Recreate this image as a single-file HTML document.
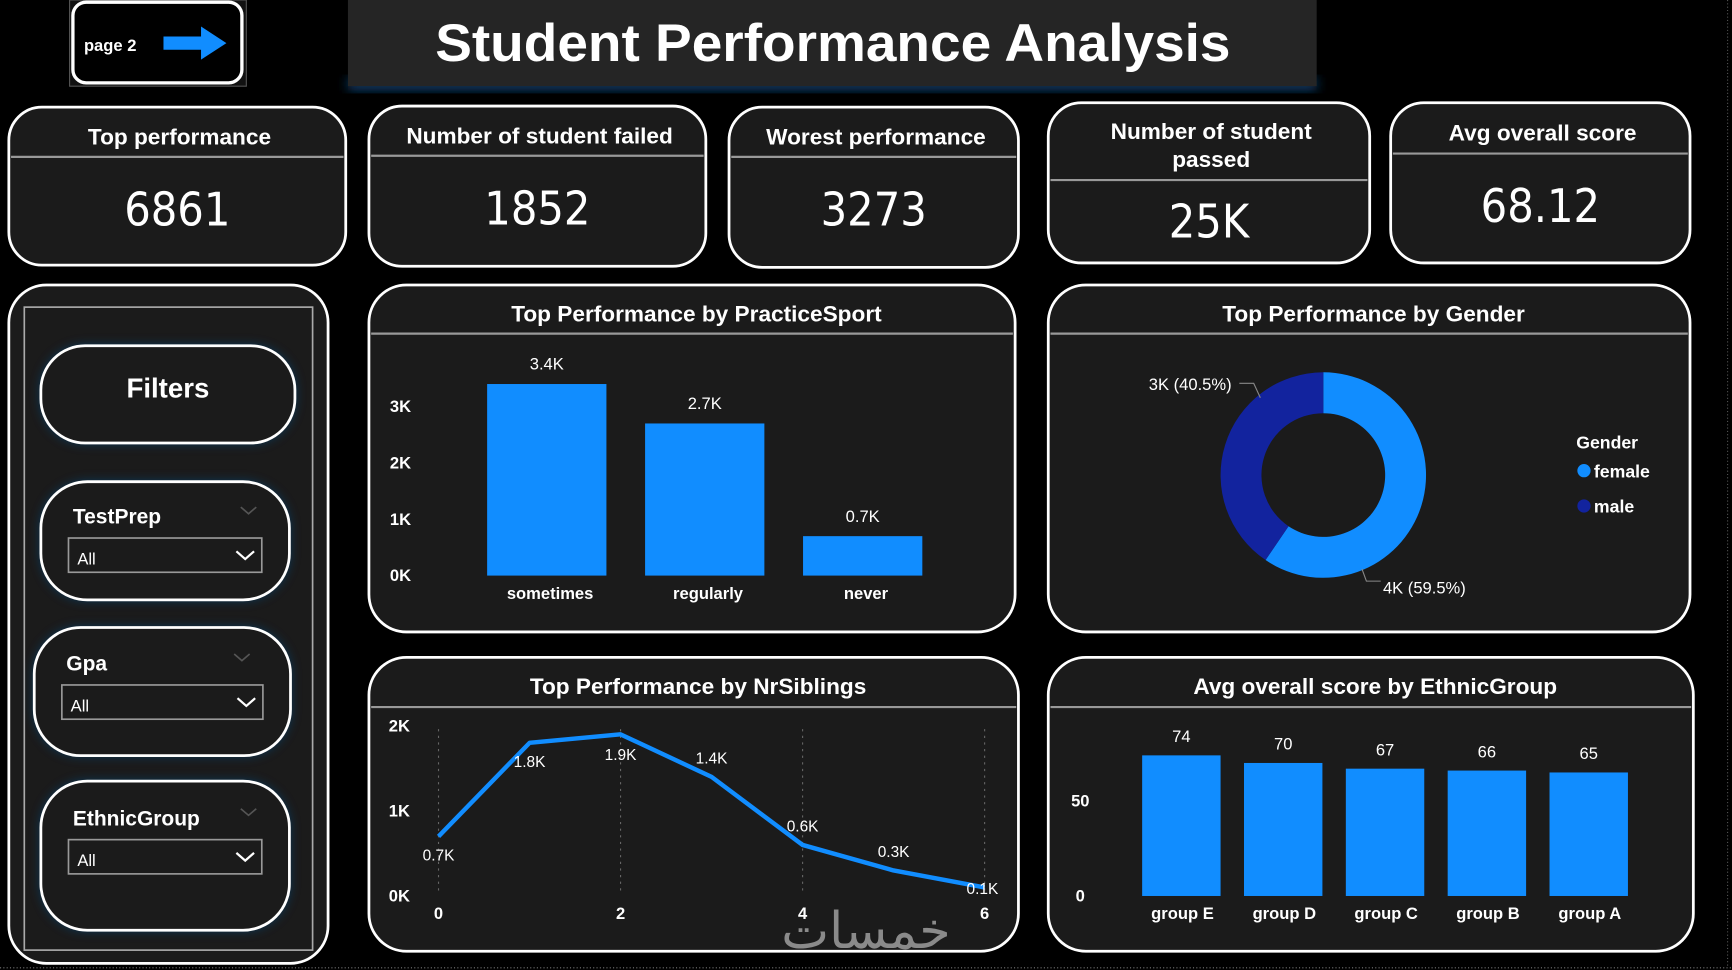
<!DOCTYPE html>
<html><head><meta charset="utf-8"><style>
html,body{margin:0;padding:0;background:#000;width:1732px;height:970px;overflow:hidden}
svg{display:block}
text{font-family:"Liberation Sans Narrow","Liberation Sans",sans-serif;fill:#fff}
.b{font-weight:bold}
</style></head><body>
<svg id="s" width="1732" height="970" viewBox="0 0 1568 878" preserveAspectRatio="none">
<defs>
<filter id="glow" x="-20%" y="-20%" width="140%" height="140%"><feGaussianBlur stdDeviation="5"/></filter>
</defs>
<rect width="1568" height="878" fill="#000"/>
<line x1="0" y1="876" x2="1568" y2="876" stroke="#777" stroke-dasharray="1 2"/>
<line x1="1564" y1="0" x2="1564" y2="876" stroke="#555" stroke-dasharray="1 2"/>

<g>
<rect x="63" y="0" width="160" height="78" fill="#111" stroke="#555"/>
<rect x="66" y="2" width="153" height="73" rx="12" fill="#000" stroke="#fff" stroke-width="3"/>
<text x="76" y="46" class="b" font-size="15">page 2</text>
<path d="M148 33 H182 V24 L205 39 L182 54 V45 H148 Z" fill="#118DFF"/>
</g>

<g>
<rect x="315" y="70" width="877" height="12" fill="#0b3a66" filter="url(#glow)"/>
<rect x="315" y="0" width="877" height="78" fill="#252525"/>
<text x="754" y="55" text-anchor="middle" class="b" font-size="48" style="font-family:'Liberation Sans',sans-serif" textLength="720" lengthAdjust="spacingAndGlyphs">Student Performance Analysis</text>
</g>

<g id="kpis"></g>
<g id="filters"></g>
<g id="c1"></g><g id="c2"></g><g id="c3"></g><g id="c4"></g>
<text x="784" y="858" text-anchor="middle" font-size="46" style="fill:#8a8a8a;font-family:'DejaVu Sans',sans-serif">خمسات</text>
</svg>
<script>
const NS="http://www.w3.org/2000/svg";
function el(tag,attrs,parent,txt){const e=document.createElementNS(NS,tag);for(const k in attrs)e.setAttribute(k,attrs[k]);if(txt!==undefined)e.textContent=txt;parent.appendChild(e);return e;}

// KPI data
const kpiTitles=[["Top performance"],["Number of student failed"],["Worest performance"],["Number of student","passed"],["Avg overall score"]];
const kpiValues=["6861","1852","3273","25K","68.12"];
const kpiBoxes=[[8,97,305,143,142],[334,96,305,145,141],[660,97,262,145,142],[949,93,291,145,163],[1259,93,271,145,139]];
const kg=document.getElementById('kpis');
kpiBoxes.forEach((b,i)=>{
  const g=el('g',{},kg);
  
  
  el('rect',{x:b[0],y:b[1],width:b[2],height:b[3],rx:30,fill:'#1b1b1b',stroke:'#fff','stroke-width':2.5},g);
  el('line',{x1:b[0]+2,x2:b[0]+b[2]-2,y1:b[4],y2:b[4],stroke:'#999','stroke-width':2},g);
  const cx=b[0]+b[2]/2;
  const t=kpiTitles[i];
  t.forEach((s,j)=>{el('text',{x:cx+2,y:(t.length>1?b[1]+33+j*25:b[1]+34),'text-anchor':'middle','font-size':20.5,class:'b'},g,s);});
  const v=el('text',{x:cx,y:b[4]+(i==3?52:62),'text-anchor':'middle','font-size':42,style:'font-family:"DejaVu Sans Condensed","DejaVu Sans",sans-serif'},g,kpiValues[i]);
  
  
});

// Filters
const fg=document.getElementById('filters');
el('rect',{x:8,y:258,width:289,height:614,rx:34,fill:'#1b1b1b',stroke:'#fff','stroke-width':2.5},fg);
el('rect',{x:22,y:278,width:261,height:582,fill:'none',stroke:'#aaa','stroke-width':1.5},fg);


const fb=el('g',{},fg);


el('rect',{x:37,y:313,width:230,height:88,rx:40,fill:'#0d4a80',filter:'url(#glow)',opacity:0.7},fb);
el('rect',{x:37,y:313,width:230,height:88,rx:40,fill:'#1b1b1b',stroke:'#fff','stroke-width':2.5},fb);
el('text',{x:152,y:360,'text-anchor':'middle','font-size':25,class:'b',style:'font-family:"Liberation Sans",sans-serif'},fb,'Filters');
const slicers=[["TestPrep",37,436,225,107,62,487,175],["Gpa",31,568,232,116,56,620,182],["EthnicGroup",37,707,225,135,62,760,175]];
slicers.forEach(s=>{
  const g=el('g',{},fg);
  
  
  el('rect',{x:s[1],y:s[2],width:s[3],height:s[4],rx:42,fill:'#0d4a80',filter:'url(#glow)',opacity:0.7},g);
  el('rect',{x:s[1],y:s[2],width:s[3],height:s[4],rx:42,fill:'#1b1b1b',stroke:'#fff','stroke-width':2.5},g);
  el('text',{x:s[5]+4,y:s[6]-13,'font-size':19,class:'b',style:'font-family:"Liberation Sans",sans-serif'},g,s[0]);
  el('path',{d:`M${s[5]+156} ${s[6]-28} l7 6 l7 -6`,stroke:'#555',fill:'none','stroke-width':1.5},g);
  const d=el('g',{},g);
  
  
  el('rect',{x:s[5],y:s[6],width:s[7],height:31,fill:'#1b1b1b',stroke:'#999','stroke-width':1.5},d);
  el('text',{x:s[5]+8,y:s[6]+24,'font-size':15,style:'font-family:"Liberation Sans",sans-serif'},d,'All');
  el('path',{d:`M${s[5]+s[7]-23} ${s[6]+12} l8 7 l8 -7`,stroke:'#fff',fill:'none','stroke-width':2},d);
});

function panel(id,x,y,w,h,div,title){
  const g=document.getElementById(id);
  el('rect',{x:x,y:y,width:w,height:h,rx:34,fill:'#1b1b1b',stroke:'#fff','stroke-width':2.5},g);
  el('line',{x1:x+2,x2:x+w-2,y1:div,y2:div,stroke:'#999','stroke-width':2},g);
  el('text',{x:x+w/2+4,y:y+33,'text-anchor':'middle','font-size':20.5,class:'b'},g,title);
  return g;
}

// Chart 1: PracticeSport
const sportCats=["sometimes","regularly","never"];
const sportVals=[3.4,2.7,0.7];
const sportLabels=["3.4K","2.7K","0.7K"];
const sportTicks=[0,1,2,3];
{
  const g=panel('c1',334,258,585,314,302,'Top Performance by PracticeSport');
  
  
  const y0=521,ps=51,x0=441,step=143,bw=108;
  const Y=v=>y0-v*ps, X=i=>x0+i*step;
  sportTicks.forEach(t=>el('text',{x:353,y:Y(t)+5,'font-size':15,class:'b'},g,t+'K'));
  sportVals.forEach((v,i)=>{
    const r=el('rect',{x:X(i),y:Y(v),width:bw,height:y0-Y(v),fill:'#118DFF'},g);
    
    
    el('text',{x:X(i)+bw/2,y:Y(v)-13,'text-anchor':'middle','font-size':15},g,sportLabels[i]);
    el('text',{x:X(i)+bw/2+3,y:542,'text-anchor':'middle','font-size':15,class:'b'},g,sportCats[i]);
  });
}

// Chart 2: Gender donut
const genderCats=["female","male"];
const genderVals=[4,3];
const genderPct=[59.5,40.5];
const genderColors=["#118DFF","#12239E"];
{
  const g=panel('c2',949,258,581,314,302,'Top Performance by Gender');
  
  
  const cx=1198,cy=430,R=93,r=56;
  const tot=genderPct.reduce((a,b)=>a+b,0);
  let a0=0;
  genderPct.forEach((p,i)=>{
    const a1=a0+p/tot*2*Math.PI;
    const pt=(rad,a)=>[cx+rad*Math.sin(a),cy-rad*Math.cos(a)];
    const [x1,y1]=pt(R,a0),[x2,y2]=pt(R,a1),[x3,y3]=pt(r,a1),[x4,y4]=pt(r,a0);
    const lg=(a1-a0)>Math.PI?1:0;
    const s=el('path',{d:`M${x1} ${y1} A${R} ${R} 0 ${lg} 1 ${x2} ${y2} L${x3} ${y3} A${r} ${r} 0 ${lg} 0 ${x4} ${y4}Z`,fill:genderColors[i]},g);
    
    
    a0=a1;
  });
  el('path',{d:'M1122 347 H1135 L1141 360',stroke:'#888',fill:'none'},g);
  el('text',{x:1040,y:353,'font-size':15},g,genderVals[1]+'K ('+genderPct[1]+'%)');
  el('path',{d:'M1233 515 L1237 526 H1250',stroke:'#888',fill:'none'},g);
  el('text',{x:1252,y:537,'font-size':15},g,genderVals[0]+'K ('+genderPct[0]+'%)');
  el('text',{x:1427,y:406,'font-size':16,class:'b'},g,'Gender');
  genderCats.forEach((c,i)=>{
    const lg=el('g',{},g);
    
    
    el('circle',{cx:1434,cy:426+i*32,r:6,fill:genderColors[i]},lg);
    el('text',{x:1443,y:432+i*32,'font-size':16,class:'b'},lg,c);
  });
}

// Chart 3: NrSiblings line
const sibX=[0,1,2,3,4,5,6];
const sibVals=[0.7,1.8,1.9,1.4,0.6,0.3,0.1];
const sibTicksX=[0,2,4,6];
const sibTicksY=[0,1,2];
{
  const g=panel('c3',334,595,588,266,640,'Top Performance by NrSiblings');
  
  
  const X=v=>397+v*82.4, Y=v=>811-v*77;
  sibTicksX.forEach(t=>{
    el('line',{x1:X(t),x2:X(t),y1:660,y2:808,stroke:'#666','stroke-dasharray':'2 4'},g);
    el('text',{x:X(t),y:832,'text-anchor':'middle','font-size':15,class:'b'},g,t);
  });
  sibTicksY.forEach(t=>el('text',{x:352,y:Y(t)+5,'font-size':15,class:'b'},g,t+'K'));
  const d=sibX.map((x,i)=>(i?'L':'M')+X(x)+' '+Y(sibVals[i])).join(' ');
  const ln=el('path',{d:d,stroke:'#118DFF','stroke-width':4,fill:'none','stroke-linejoin':'round'},g);
  
  
  const off=[[0,22],[0,22],[0,23],[0,-12],[0,-12],[0,-12],[-2,6]];
  sibX.forEach((x,i)=>el('text',{x:X(x)+off[i][0],y:Y(sibVals[i])+off[i][1],'text-anchor':'middle','font-size':14},g,sibVals[i]+'K'));
}

// Chart 4: EthnicGroup
const ethCats=["group E","group D","group C","group B","group A"];
const ethVals=[74,70,67,66,65];
const ethTicks=[0,50];
{
  const g=panel('c4',949,595,584,266,640,'Avg overall score by EthnicGroup');
  
  
  const y0=811,ps=1.72,bw=71,step=92.2,x0=1034;
  const Y=v=>y0-v*ps, X=i=>x0+i*step;
  ethTicks.forEach(t=>el('text',{x:978,y:Y(t)+5,'text-anchor':'middle','font-size':15,class:'b'},g,t));
  ethVals.forEach((v,i)=>{
    const r=el('rect',{x:X(i),y:Y(v),width:bw,height:y0-Y(v),fill:'#118DFF'},g);
    
    
    el('text',{x:X(i)+bw/2,y:Y(v)-12,'text-anchor':'middle','font-size':15},g,v);
    el('text',{x:X(i)+bw/2+1,y:832,'text-anchor':'middle','font-size':15,class:'b'},g,ethCats[i]);
  });
}
</script>
</body></html>
